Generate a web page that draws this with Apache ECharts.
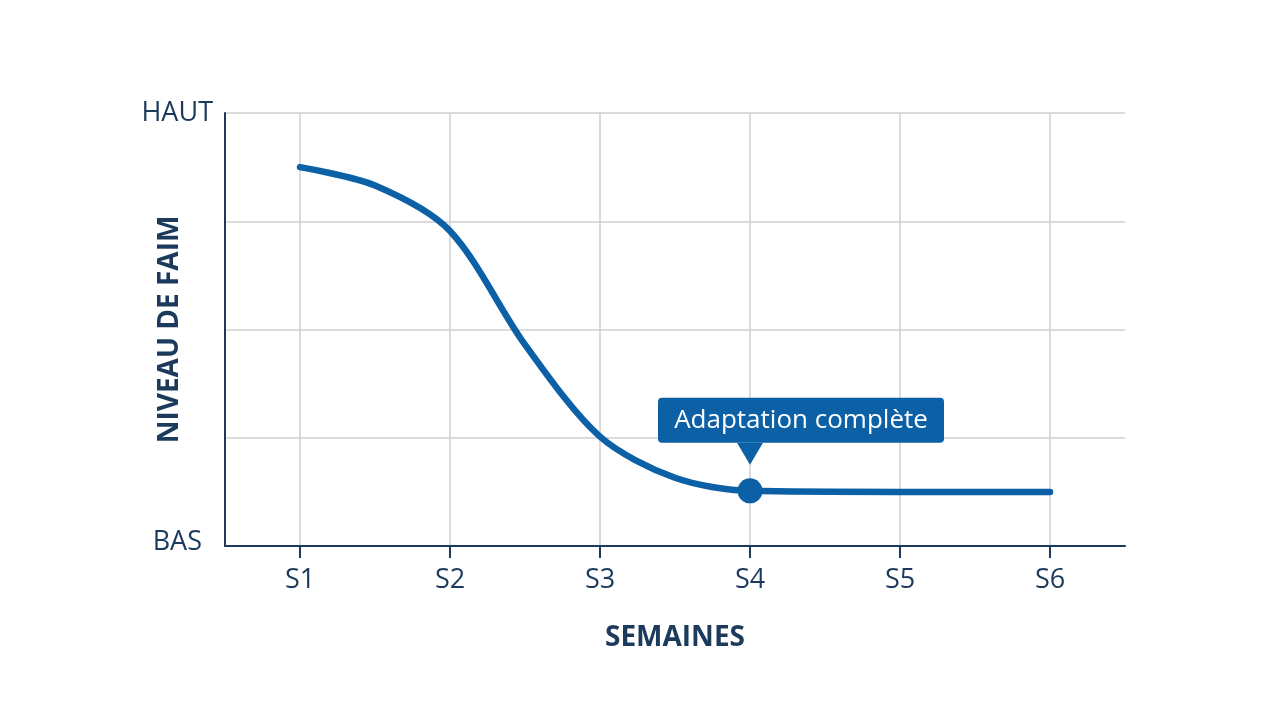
<!DOCTYPE html>
<html><head><meta charset="utf-8">
<script src="https://cdn.jsdelivr.net/npm/echarts@6/dist/echarts.min.js"></script>
<style>html,body{margin:0;padding:0;background:#fff}#c{width:1280px;height:720px}</style>
</head><body><div id="c"></div>
<script>
const categories = ['S1','S2','S3','S4','S5','S6'];
const yTickLabels = {0:'BAS', 4:'HAUT'};
// curve: week position (1 = S1) and hunger level (0 = BAS, 4 = HAUT)
const curveWeeks = [1, 1.5, 2, 2.5, 3, 3.5, 4, 5, 6];
const hungerLevel = [3.50, 3.33, 2.91, 1.86, 1.01, 0.63, 0.51, 0.50, 0.50];
const annotationWeek = 4;
const annotationLevel = 0.51;
const annotationText = 'Adaptation complète';

const navy = '#1b3a5c';
const blue = '#0b60a6';
const gridC = '#cfcfcf';
const font = '"Open Sans", "Noto Sans", sans-serif';

const chart = echarts.init(document.getElementById('c'));
chart.setOption({
  backgroundColor: '#ffffff',
  animation: false,
  textStyle: {fontFamily: font},
  grid: {left: 225, right: 155, top: 113, bottom: 174, containLabel: false},
  xAxis: [{
    type: 'category',
    data: categories,
    boundaryGap: true,
    name: 'SEMAINES',
    nameLocation: 'middle',
    nameMoveOverlap: false,
    nameGap: 78,
    nameTextStyle: {color: navy, fontSize: 28, fontWeight: 'bold', fontFamily: font},
    axisLine: {show: true, lineStyle: {color: navy, width: 2}},
    axisTick: {show: true, alignWithLabel: true, length: 12, lineStyle: {color: navy, width: 2}},
    axisLabel: {color: navy, fontSize: 27, margin: 21, fontFamily: font},
    splitLine: {show: true, alignWithLabel: true, lineStyle: {color: gridC, width: 1.5}}
  }, {
    type: 'value',
    min: 0.5, max: 6.5,
    show: false
  }],
  yAxis: {
    type: 'value',
    min: 0, max: 4, interval: 1,
    name: 'NIVEAU DE FAIM',
    nameLocation: 'middle',
    nameRotate: 90,
    nameMoveOverlap: false,
    nameGap: 41,
    nameTextStyle: {color: navy, fontSize: 28, fontWeight: 'bold', fontFamily: font},
    axisLine: {show: true, lineStyle: {color: navy, width: 2}},
    axisTick: {show: false},
    axisLabel: {color: navy, fontSize: 27, margin: 12, fontFamily: font,
      formatter: v => v === 0 ? '{b|' + yTickLabels[0] + '}' : (yTickLabels[v] || ''),
      rich: {b: {color: navy, fontSize: 27, fontFamily: font, padding: [0, 11, 8, 0]}}},
    splitLine: {show: true, lineStyle: {color: gridC, width: 1.5}}
  },
  series: [{
    type: 'line',
    xAxisIndex: 1,
    data: curveWeeks.map((w, i) => [w, hungerLevel[i]]),
    smooth: 0.3,
    showSymbol: false,
    symbol: 'none',
    lineStyle: {color: blue, width: 6.5, cap: 'round', join: 'round'},
    z: 3,
    markPoint: {
      silent: true,
      data: [
        {coord: [annotationWeek, annotationLevel], symbol: 'circle', symbolSize: 25,
         itemStyle: {color: blue}, label: {show: false}},
        {coord: [annotationWeek, annotationLevel], symbol: 'triangle', symbolRotate: 180,
         symbolSize: [26, 22], symbolOffset: [0, -37],
         itemStyle: {color: blue},
         label: {show: true, position: 'top', distance: 0, offset: [51, 0], formatter: annotationText,
           color: '#ffffff', fontSize: 26, fontFamily: font, lineHeight: 27,
           backgroundColor: blue, borderRadius: 4, padding: [9, 12], width: 262, align: 'center'}}
      ]
    }
  }]
});
</script></body></html>
